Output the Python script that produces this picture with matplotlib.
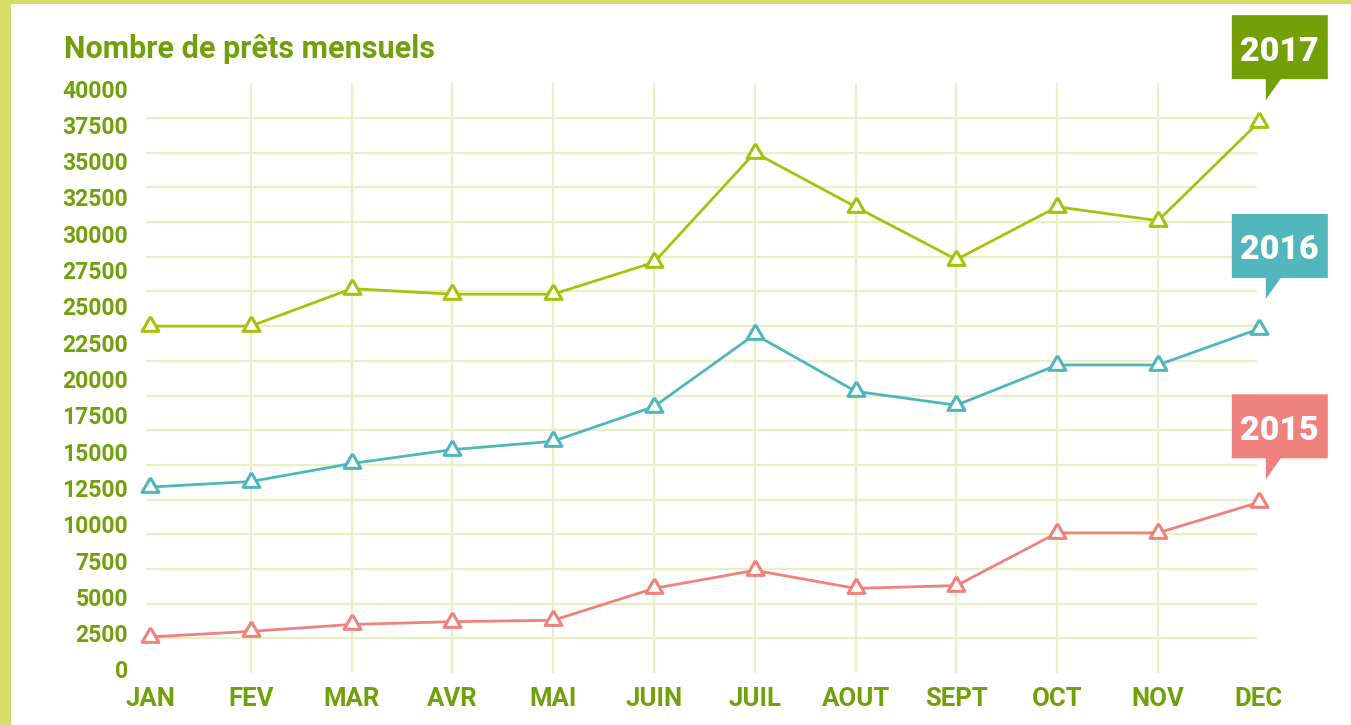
import matplotlib
matplotlib.use("Agg")
import matplotlib.pyplot as plt
from matplotlib.patches import Polygon, Rectangle
from matplotlib.transforms import Affine2D, ScaledTranslation

# ---------------- data ----------------
months = ["JAN", "FEV", "MAR", "AVR", "MAI", "JUIN", "JUIL", "AOUT", "SEPT", "OCT", "NOV", "DEC"]
loans_2015 = [2600, 3000, 3500, 3700, 3800, 6100, 7400, 6100, 6300, 10100, 10100, 12300]
loans_2016 = [13400, 13800, 15100, 16100, 16700, 19200, 24400, 20300, 19300, 22200, 22200, 24800]
loans_2017 = [25000, 25000, 27700, 27300, 27300, 29600, 37500, 33600, 29800, 33600, 32600, 39700]
series_names = ["2015", "2016", "2017"]
tick_values = list(range(0, 40001, 2500))
tick_labels = [str(v) for v in tick_values]
title = "Nombre de prêts mensuels"

# ---------------- style ----------------
W, H, DPI = 1351, 725, 100
FONT = "Roboto"
TEXT_GREEN = "#72a00a"
GRID = "#e9f0c4"
BORDER = "#d5df68"
line_colors = ["#f0827d", "#4fb7bc", "#a5c30c"]
box_colors = ["#f0827d", "#52b7bc", "#759f07"]
callout_lift = [23, 30, 22]   # px between last point and bubble tip

fig = plt.figure(figsize=(W / DPI, H / DPI), dpi=DPI)
fig.patch.set_facecolor("white")

# frame border (top and left bands)
fig.add_artist(Rectangle((0, 1 - 4 / H), 1, 4 / H, transform=fig.transFigure,
                         color=BORDER, lw=0, zorder=0))
fig.add_artist(Rectangle((0, 0), 11 / W, 1, transform=fig.transFigure,
                         color=BORDER, lw=0, zorder=0))

# axes geometry in pixels
ax_left, ax_right, ax_bottom, ax_top = 130, 1345, 673, 20
ax = fig.add_axes([ax_left / W, (H - ax_bottom) / H,
                   (ax_right - ax_left) / W, (ax_bottom - ax_top) / H])
ax.set_facecolor("none")

# x scale: JAN at 150 px, 100.8 px per month
x0_px, dx_px = 150.0, 100.8
ax.set_xlim((ax_left - x0_px) / dx_px, (ax_right - x0_px) / dx_px)
# grid scale: 0 at 673 px, 40000 at 118 px
grid_top_px = 118
units_per_px = 40000 / (ax_bottom - grid_top_px)
ax.set_ylim(0, (ax_bottom - ax_top) * units_per_px)

xs = list(range(len(months)))

# grid
ax.hlines(tick_values[1:], (146 - x0_px) / dx_px, (1257 - x0_px) / dx_px,
          color=GRID, lw=1.6, zorder=1)
ax.vlines(xs[1:-1], 0, (ax_bottom - 83) * units_per_px, color=GRID, lw=1.6, zorder=1)

# equilateral triangle centred on its centroid
tri = [(0, 1), (-0.866, -0.5), (0.866, -0.5), (0, 1)]

for vals, col in zip([loans_2015, loans_2016, loans_2017], line_colors):
    ax.plot(xs, vals, color=col, lw=2.0, marker=tri, markersize=14,
            markerfacecolor="white", markeredgecolor=col, markeredgewidth=2.2,
            zorder=3, solid_joinstyle="miter")

# speech-bubble labels anchored to the last point of each series
for vals, name, bcol, lift in zip([loans_2015, loans_2016, loans_2017],
                                  series_names, box_colors, callout_lift):
    tr = Affine2D() + ScaledTranslation(xs[-1], vals[-1], ax.transData)
    tip_y = lift
    box_b = tip_y + 21
    box_t = box_b + 64
    bubble = [(-27, box_b), (7, box_b), (7, tip_y), (22, box_b), (69, box_b),
              (69, box_t), (-27, box_t)]
    ax.add_patch(Polygon(bubble, closed=True, transform=tr, facecolor=bcol,
                         edgecolor="none", zorder=5, clip_on=False))
    ax.text(21, (box_b + box_t) / 2 - 1, name, transform=tr, ha="center",
            va="center_baseline", color="white", fontsize=24.5,
            fontweight="black", family=FONT, zorder=6, clip_on=False)

# x ticks
ax.set_xticks(xs)
ax.set_xticklabels(months, family=FONT, fontweight="bold", fontsize=18.5, color=TEXT_GREEN)
ax.tick_params(axis="x", length=0, pad=10)
ax.set_yticks([])
for s in ax.spines.values():
    s.set_visible(False)

# y tick labels on their own scale: 0 at 672 px, 40000 at 91 px
lab = ax.twinx()
lab_units_per_px = 40000 / (672 - 91)
lab.set_ylim(-(ax_bottom - 672) * lab_units_per_px, (672 - ax_top) * lab_units_per_px)
lab.yaxis.tick_left()
lab.set_yticks(tick_values)
lab.set_yticklabels(tick_labels, family=FONT, fontweight="bold", fontsize=16.5,
                    color=TEXT_GREEN, va="center")
lab.tick_params(axis="y", length=0, pad=1.5)
for s in lab.spines.values():
    s.set_visible(False)
lab.set_facecolor("none")

fig.text(64 / W, (H - 58) / H, title, ha="left", va="baseline",
         family=FONT, fontweight="bold", fontsize=22, color=TEXT_GREEN)

fig.savefig("out.png", dpi=DPI)
